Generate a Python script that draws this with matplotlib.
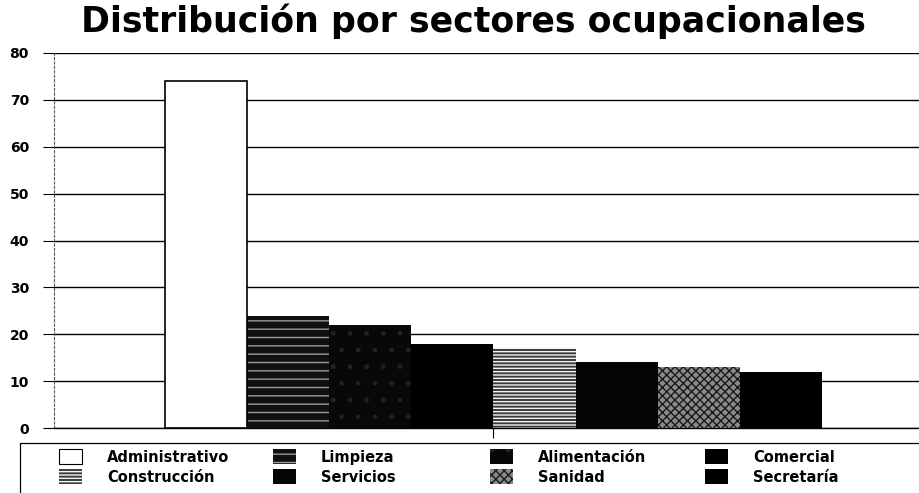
import matplotlib
matplotlib.use("Agg")
import matplotlib.pyplot as plt
from matplotlib.patches import Patch, Rectangle

categories = ["Administrativo", "Limpieza", "Alimentación", "Comercial",
              "Construcción", "Servicios", "Sanidad", "Secretaría"]
values = [74, 24, 22, 18, 17, 14, 13, 12]
yticks = [0, 10, 20, 30, 40, 50, 60, 70, 80]
title = "Distribución por sectores ocupacionales"

# style per category: (facecolor, hatch, hatchcolor)
styles = [
    ("white", None, "black"),
    ("#101010", "--", "#9a9a9a"),
    ("#080808", ".", "#222222"),
    ("black", None, "black"),
    ("#3a3a3a", "-----", "#f4f4f4"),
    ("#050505", None, "black"),
    ("#8a8a8a", "xxxx", "#1a1a1a"),
    ("black", None, "black"),
]

W, H = 919, 493
fig = plt.figure(figsize=(W / 100, H / 100), dpi=100)
ax = fig.add_axes([54 / W, 1 - 428 / H, (W - 54) / W, (428 - 53) / H])

x = list(range(len(categories)))
for i, (v, (fc, h, hc)) in enumerate(zip(values, styles)):
    ax.bar(x[i], v, width=1.0, color=fc, hatch=h, edgecolor=hc, linewidth=0, zorder=3)
ax.bar(x[0], values[0], width=1.0, fill=False, edgecolor="black", linewidth=1.2, zorder=4)

ax.set_xlim(-0.5 - (165 - 54) / 82.1, -0.5 + (W - 165) / 82.1)
ax.set_ylim(0, 80)
ax.set_yticks(yticks)
ax.set_yticklabels([str(t) for t in yticks], fontsize=10, fontweight="bold",
                   family="DejaVu Sans")
ax.tick_params(axis="y", length=8, width=0.8, pad=10)
ax.set_xticks([3.5])
ax.set_xticklabels([""])
ax.tick_params(axis="x", length=7, width=0.8, direction="out")
ax.grid(axis="y", color="black", linewidth=1.0, zorder=1)
for s in ["top", "right"]:
    ax.spines[s].set_visible(False)
ax.spines["left"].set_linestyle((0, (2, 2)))
ax.spines["left"].set_color("#555555")
ax.spines["left"].set_linewidth(0.8)
ax.spines["bottom"].set_linewidth(1.0)

fig.text(473 / W, 1 - 21 / H, title, ha="center", va="center",
         fontsize=25, fontweight="bold", family="DejaVu Sans")

# legend frame
fig.patches.append(Rectangle((20 / W, -0.05), 1.0, (493 - 443) / H + 0.05,
                             transform=fig.transFigure, fill=False,
                             edgecolor="black", linewidth=0.9))

col_x = [59, 273, 490, 705]
order = [[0, 4], [1, 5], [2, 6], [3, 7]]
for cx, idxs in zip(col_x, order):
    handles = []
    for i in idxs:
        fc, h, hc = styles[i]
        handles.append(Patch(facecolor=fc, hatch=h,
                             edgecolor="black" if i == 0 else hc,
                             linewidth=0.8 if i == 0 else 0,
                             label=categories[i]))
    leg = fig.legend(handles=handles, loc="upper left",
                     bbox_to_anchor=(cx / W, 1 - 449 / H),
                     frameon=False, borderpad=0, borderaxespad=0,
                     handlelength=1.6, handleheight=1.25, handletextpad=1.7,
                     labelspacing=0.3,
                     prop={"family": "DejaVu Sans", "weight": "bold", "size": 10.5})

fig.savefig("out.png", dpi=100)
